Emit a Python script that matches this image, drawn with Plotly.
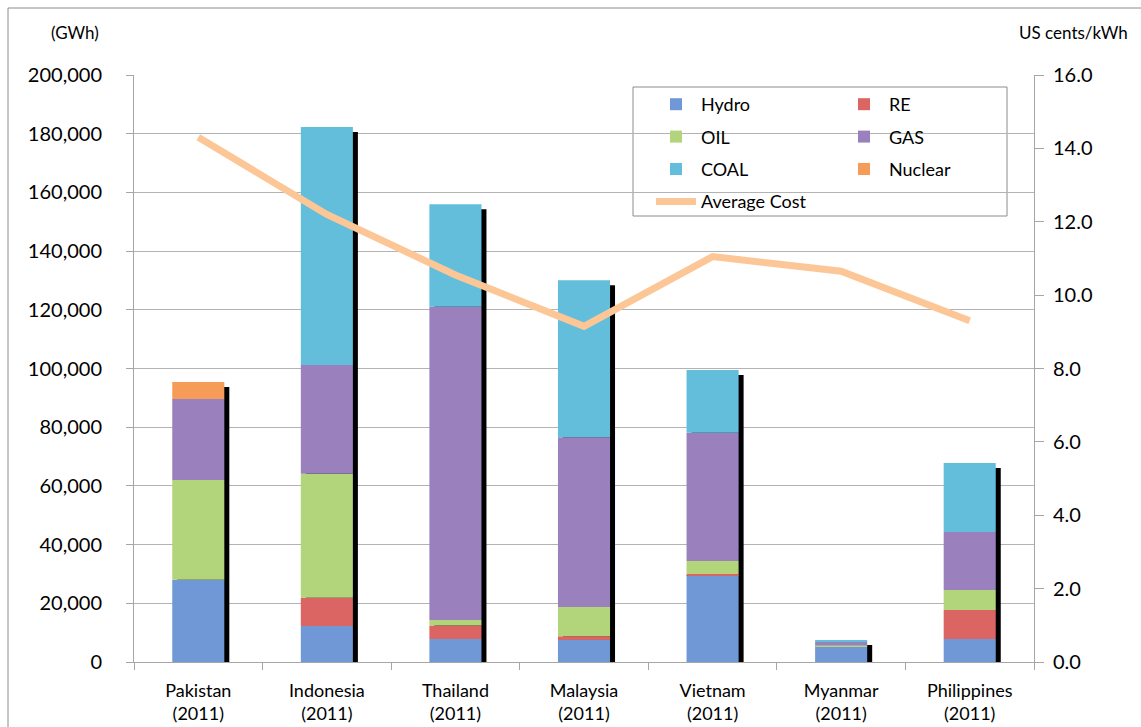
import plotly.graph_objects as go

categories = ["Pakistan<br>(2011)", "Indonesia<br>(2011)", "Thailand<br>(2011)", "Malaysia<br>(2011)",
              "Vietnam<br>(2011)", "Myanmar<br>(2011)", "Philippines<br>(2011)"]

hydro   = [28000, 12300, 7800, 7500, 29600, 5400, 7800]
re      = [0,      9600, 4600, 1300,   400,    0, 9900]
oil     = [34000, 42200, 1900, 9900,  4400,  200, 6800]
gas     = [27600, 37100, 106700, 57900, 43700, 1200, 19800]
coal    = [0,     81100, 35000, 53500, 21400,  700, 23500]
nuclear = [5800,      0,     0,     0,     0,    0,     0]
avg_cost = [14.3, 12.2, 10.55, 9.15, 11.05, 10.65, 9.3]

series = [
    ("Hydro", hydro, "#7097D6", "legend"),
    ("RE", re, "#DA6563", "legend2"),
    ("OIL", oil, "#B2D47A", "legend"),
    ("GAS", gas, "#9A80BD", "legend2"),
    ("COAL", coal, "#62BEDB", "legend"),
    ("Nuclear", nuclear, "#F69B58", "legend2"),
]

FONT = "Lato"
W, H = 1141, 727
L, R, T, B = 134, 107, 75, 65
pw = W - L - R
ph = H - T - B
cat_px = pw / len(categories)
bar_w = 0.405
shift = 5 / cat_px

totals = [sum(v) for v in zip(*[s[1] for s in series])]
ppx = 200000 / ph

fig = go.Figure()

# shadow behind the stacks
fig.add_trace(go.Bar(
    x=categories, y=[t - 5 * ppx for t in totals], base=0,
    width=bar_w, offset=-bar_w / 2 + shift,
    marker=dict(color="black", line_width=0),
    showlegend=False, hoverinfo="skip"))

base = [0] * len(categories)
for i, (name, vals, color, lg) in enumerate(series):
    fig.add_trace(go.Bar(
        x=categories, y=vals, base=list(base), name=name,
        width=bar_w, offset=-bar_w / 2,
        marker=dict(color=color, line_width=0),
        legend=lg, legendgroup=name, legendrank=i))
    base = [b + v for b, v in zip(base, vals)]

fig.add_trace(go.Scatter(
    x=categories, y=avg_cost, name="Average Cost", mode="lines",
    line=dict(color="#FCC697", width=7), yaxis="y2",
    legend="legend", legendgroup="avg", legendrank=10))

legend_common = dict(
    bgcolor="rgba(0,0,0,0)", borderwidth=0,
    font=dict(family=FONT, size=18, color="black"),
    tracegroupgap=6, itemwidth=40, traceorder="grouped",
    xanchor="left", yanchor="top", orientation="v")

fig.update_layout(
    width=W, height=H,
    margin=dict(l=L, r=R, t=T, b=B, autoexpand=False),
    paper_bgcolor="white", plot_bgcolor="white",
    barmode="overlay",
    font=dict(family=FONT, size=18, color="black"),
    xaxis=dict(showline=True, linecolor="#A6A6A6", linewidth=1,
               ticks="outside", ticklen=7, tickcolor="#A6A6A6",
               tickson="boundaries", showgrid=False, ticklabelstandoff=12,
               automargin=False,
               tickfont=dict(family=FONT, size=18)),
    yaxis=dict(range=[0, 200000], dtick=20000, tickformat=",d",
               showline=True, linecolor="#A6A6A6", linewidth=1,
               ticks="outside", ticklen=7, tickcolor="#A6A6A6",
               showgrid=True, gridcolor="#B3B3B3", gridwidth=1,
               zeroline=False, ticklabelstandoff=20, automargin=False,
               tickfont=dict(family=FONT, size=20)),
    yaxis2=dict(range=[0, 16], dtick=2, tickformat=".1f",
                overlaying="y", side="right",
                showline=True, linecolor="#A6A6A6", linewidth=1,
                ticks="outside", ticklen=9, tickcolor="#A6A6A6",
                showgrid=False, zeroline=False, ticklabelstandoff=5,
                automargin=False,
                tickfont=dict(family=FONT, size=20)),
    legend=dict(x=(651 - L) / pw, y=1 - (86 - T) / ph, **legend_common),
    legend2=dict(x=(839 - L) / pw, y=1 - (86 - T) / ph, **legend_common),
    showlegend=True,
)

# legend frame
fig.add_shape(type="rect", xref="paper", yref="paper",
              x0=(633 - L) / pw, x1=(1007 - L) / pw,
              y0=1 - (216 - T) / ph, y1=1 - (87 - T) / ph,
              line=dict(color="#8C8C8C", width=1), fillcolor="rgba(0,0,0,0)", layer="below")
# outer chart border
fig.add_shape(type="rect", xref="paper", yref="paper",
              x0=(8 - L) / pw, x1=(1150 - L) / pw,
              y0=1 - (740 - T) / ph, y1=1 + (T - 8) / ph,
              line=dict(color="#8C8C8C", width=1), fillcolor="rgba(0,0,0,0)", layer="below")

fig.add_annotation(text="(GWh)", xref="paper", yref="paper",
                   x=(75 - L) / pw, y=1 + (T - 33) / ph, showarrow=False,
                   font=dict(family=FONT, size=17), xanchor="center", yanchor="middle")
fig.add_annotation(text="US cents/kWh", xref="paper", yref="paper",
                   x=(1130 - L) / pw, y=1 + (T - 33) / ph, showarrow=False,
                   font=dict(family=FONT, size=17), xanchor="right", yanchor="middle")

fig.write_html("out.html")
